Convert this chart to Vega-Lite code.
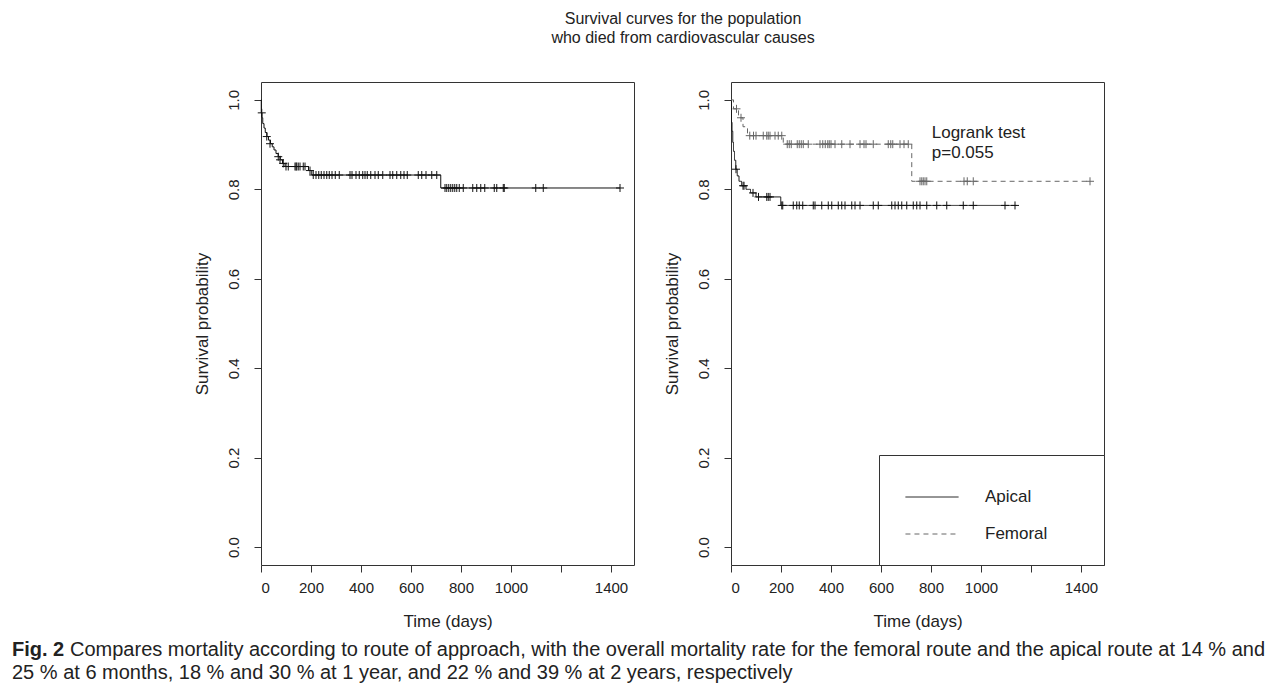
{
  "$schema": "https://vega.github.io/schema/vega-lite/v6.json",
  "background": "white",
  "padding": {"left": 12, "top": 10, "right": 0, "bottom": 0},
  "config": {
    "font": "Liberation Sans",
    "view": {"stroke": "#333", "strokeWidth": 1},
    "axis": {"grid": false, "domain": false, "tickColor": "#333", "tickSize": 7, "labelColor": "#222", "labelFontSize": 15, "labelFont": "Liberation Sans", "titleFont": "Liberation Sans", "titleFontSize": 17, "titleFontWeight": "normal", "titleColor": "#222"}
  },
  "datasets": {
    "leftSteps": [
      {"t":0,"s":1},{"t":1,"s":0.971},{"t":4,"s":0.96},{"t":7,"s":0.947},{"t":12,"s":0.937},{"t":17,"s":0.927},{"t":24,"s":0.918},{"t":30,"s":0.91},{"t":38,"s":0.902},{"t":45,"s":0.895},{"t":52,"s":0.888},{"t":60,"s":0.88},{"t":69,"s":0.873},{"t":77,"s":0.866},{"t":86,"s":0.858},{"t":96,"s":0.851},{"t":190,"s":0.842},{"t":203,"s":0.832},{"t":719,"s":0.803},{"t":1436,"s":0.803}
    ],
    "leftCensor": [
      {"t":3,"s":0.971},{"t":23,"s":0.918},{"t":36,"s":0.902},{"t":69,"s":0.873},{"t":76,"s":0.866},{"t":89,"s":0.858},{"t":100,"s":0.851},{"t":109,"s":0.851},{"t":136,"s":0.851},{"t":140,"s":0.851},{"t":143,"s":0.851},{"t":149,"s":0.851},{"t":156,"s":0.851},{"t":169,"s":0.851},{"t":176,"s":0.851},{"t":196,"s":0.842},
      {"t":209,"s":0.832},{"t":220,"s":0.832},{"t":231,"s":0.832},{"t":241,"s":0.832},{"t":252,"s":0.832},{"t":263,"s":0.832},{"t":273,"s":0.832},{"t":284,"s":0.832},{"t":297,"s":0.832},{"t":313,"s":0.832},{"t":356,"s":0.832},{"t":364,"s":0.832},{"t":380,"s":0.832},{"t":393,"s":0.832},{"t":407,"s":0.832},{"t":416,"s":0.832},{"t":425,"s":0.832},{"t":439,"s":0.832},{"t":456,"s":0.832},{"t":469,"s":0.832},{"t":487,"s":0.832},{"t":516,"s":0.832},{"t":527,"s":0.832},{"t":543,"s":0.832},{"t":559,"s":0.832},{"t":572,"s":0.832},{"t":585,"s":0.832},{"t":629,"s":0.832},{"t":643,"s":0.832},{"t":660,"s":0.832},{"t":683,"s":0.832},{"t":703,"s":0.832},
      {"t":736,"s":0.803},{"t":743,"s":0.803},{"t":751,"s":0.803},{"t":759,"s":0.803},{"t":767,"s":0.803},{"t":775,"s":0.803},{"t":783,"s":0.803},{"t":793,"s":0.803},{"t":809,"s":0.803},{"t":847,"s":0.803},{"t":863,"s":0.803},{"t":879,"s":0.803},{"t":895,"s":0.803},{"t":933,"s":0.803},{"t":943,"s":0.803},{"t":969,"s":0.803},{"t":973,"s":0.803},{"t":1099,"s":0.803},{"t":1129,"s":0.803},{"t":1436,"s":0.803}
    ],
    "rightSteps": [
      {"g":"Apical","t":0,"s":1},{"g":"Apical","t":2,"s":0.95},{"g":"Apical","t":4,"s":0.93},{"g":"Apical","t":7,"s":0.905},{"g":"Apical","t":10,"s":0.885},{"g":"Apical","t":14,"s":0.865},{"g":"Apical","t":19,"s":0.845},{"g":"Apical","t":25,"s":0.83},{"g":"Apical","t":32,"s":0.818},{"g":"Apical","t":42,"s":0.808},{"g":"Apical","t":60,"s":0.8},{"g":"Apical","t":78,"s":0.792},{"g":"Apical","t":100,"s":0.783},{"g":"Apical","t":199,"s":0.764},{"g":"Apical","t":1143,"s":0.764},
      {"g":"Femoral","t":0,"s":1},{"g":"Femoral","t":10,"s":0.98},{"g":"Femoral","t":30,"s":0.96},{"g":"Femoral","t":48,"s":0.94},{"g":"Femoral","t":66,"s":0.92},{"g":"Femoral","t":209,"s":0.901},{"g":"Femoral","t":723,"s":0.818},{"g":"Femoral","t":1436,"s":0.818}
    ],
    "rightCensor": [
      {"g":"Apical","t":20,"s":0.845},{"g":"Apical","t":48,"s":0.808},{"g":"Apical","t":52,"s":0.808},{"g":"Apical","t":88,"s":0.792},{"g":"Apical","t":110,"s":0.783},{"g":"Apical","t":143,"s":0.783},{"g":"Apical","t":149,"s":0.783},{"g":"Apical","t":156,"s":0.783},
      {"g":"Apical","t":203,"s":0.764},{"g":"Apical","t":207,"s":0.764},{"g":"Apical","t":249,"s":0.764},{"g":"Apical","t":263,"s":0.764},{"g":"Apical","t":273,"s":0.764},{"g":"Apical","t":287,"s":0.764},{"g":"Apical","t":329,"s":0.764},{"g":"Apical","t":336,"s":0.764},{"g":"Apical","t":363,"s":0.764},{"g":"Apical","t":389,"s":0.764},{"g":"Apical","t":403,"s":0.764},{"g":"Apical","t":429,"s":0.764},{"g":"Apical","t":443,"s":0.764},{"g":"Apical","t":456,"s":0.764},{"g":"Apical","t":483,"s":0.764},{"g":"Apical","t":496,"s":0.764},{"g":"Apical","t":516,"s":0.764},{"g":"Apical","t":569,"s":0.764},{"g":"Apical","t":589,"s":0.764},{"g":"Apical","t":643,"s":0.764},{"g":"Apical","t":656,"s":0.764},{"g":"Apical","t":669,"s":0.764},{"g":"Apical","t":683,"s":0.764},{"g":"Apical","t":703,"s":0.764},{"g":"Apical","t":729,"s":0.764},{"g":"Apical","t":743,"s":0.764},{"g":"Apical","t":756,"s":0.764},{"g":"Apical","t":783,"s":0.764},{"g":"Apical","t":823,"s":0.764},{"g":"Apical","t":863,"s":0.764},{"g":"Apical","t":929,"s":0.764},{"g":"Apical","t":969,"s":0.764},{"g":"Apical","t":1096,"s":0.764},{"g":"Apical","t":1136,"s":0.764},
      {"g":"Femoral","t":22,"s":0.98},{"g":"Femoral","t":40,"s":0.96},{"g":"Femoral","t":75,"s":0.92},{"g":"Femoral","t":90,"s":0.92},{"g":"Femoral","t":100,"s":0.92},{"g":"Femoral","t":129,"s":0.92},{"g":"Femoral","t":143,"s":0.92},{"g":"Femoral","t":149,"s":0.92},{"g":"Femoral","t":156,"s":0.92},{"g":"Femoral","t":176,"s":0.92},{"g":"Femoral","t":189,"s":0.92},{"g":"Femoral","t":203,"s":0.92},
      {"g":"Femoral","t":225,"s":0.901},{"g":"Femoral","t":233,"s":0.901},{"g":"Femoral","t":241,"s":0.901},{"g":"Femoral","t":265,"s":0.901},{"g":"Femoral","t":273,"s":0.901},{"g":"Femoral","t":281,"s":0.901},{"g":"Femoral","t":289,"s":0.901},{"g":"Femoral","t":309,"s":0.901},{"g":"Femoral","t":356,"s":0.901},{"g":"Femoral","t":367,"s":0.901},{"g":"Femoral","t":377,"s":0.901},{"g":"Femoral","t":387,"s":0.901},{"g":"Femoral","t":393,"s":0.901},{"g":"Femoral","t":400,"s":0.901},{"g":"Femoral","t":416,"s":0.901},{"g":"Femoral","t":443,"s":0.901},{"g":"Femoral","t":476,"s":0.901},{"g":"Femoral","t":516,"s":0.901},{"g":"Femoral","t":532,"s":0.901},{"g":"Femoral","t":540,"s":0.901},{"g":"Femoral","t":569,"s":0.901},{"g":"Femoral","t":629,"s":0.901},{"g":"Femoral","t":639,"s":0.901},{"g":"Femoral","t":647,"s":0.901},{"g":"Femoral","t":676,"s":0.901},{"g":"Femoral","t":692,"s":0.901},{"g":"Femoral","t":709,"s":0.901},
      {"g":"Femoral","t":756,"s":0.818},{"g":"Femoral","t":763,"s":0.818},{"g":"Femoral","t":769,"s":0.818},{"g":"Femoral","t":776,"s":0.818},{"g":"Femoral","t":783,"s":0.818},{"g":"Femoral","t":932,"s":0.818},{"g":"Femoral","t":945,"s":0.818},{"g":"Femoral","t":969,"s":0.818},{"g":"Femoral","t":1436,"s":0.818}
    ],
    "annot": [{"t":803,"s":0.925,"label":"Logrank test\n\u2002p=0.055"}],
    "caption": [
      {"line":1,"part":"bold","text":"Fig. 2"},
      {"line":1,"part":"rest","text":"Compares mortality according to route of approach, with the overall mortality rate for the femoral route and the apical route at 14 % and"},
      {"line":2,"part":"rest","text":"25 % at 6 months, 18 % and 30 % at 1 year, and 22 % and 39 % at 2 years, respectively"}
    ]
  },
  "title": {"text": ["Survival curves for the population", "who died from cardiovascular causes"], "fontSize": 16, "fontWeight": "normal", "font": "Liberation Sans", "color": "#222", "anchor": "middle", "frame": "group", "offset": 36, "lineHeight": 19, "dx": 422},
  "spacing": 8,
  "resolve": {"legend": {"color": "independent", "strokeDash": "independent"}},
  "vconcat": [
    {
      "resolve": {"legend": {"color": "independent", "strokeDash": "independent"}},
      "spacing": 27,
      "hconcat": [
        {
          "width": 373, "height": 483,
          "layer": [
            {"data": {"name": "leftSteps"}, "mark": {"type": "line", "interpolate": "step-after", "strokeWidth": 1, "color": "#111"},
             "encoding": {
               "x": {"field": "t", "type": "quantitative", "scale": {"domain": [0, 1492], "nice": false, "zero": false}, "axis": {"values": [0,200,400,600,800,1000,1200,1400], "format": "d", "labelExpr": "datum.value == 1200 ? '' : datum.label", "title": "Time (days)", "labelPadding": 8, "titlePadding": 18}},
               "y": {"field": "s", "type": "quantitative", "scale": {"domain": [-0.04, 1.04], "nice": false, "zero": false}, "axis": {"values": [0,0.2,0.4,0.6,0.8,1], "format": ".1f", "title": "Survival probability", "labelAngle": 270, "labelAlign": "center", "labelBaseline": "alphabetic", "labelPadding": 16, "titlePadding": 15}}
             }},
            {"data": {"name": "leftCensor"}, "mark": {"type": "point", "shape": "M-1,0H1M0,-1V1", "filled": false, "size": 64, "strokeWidth": 1, "color": "#111", "opacity": 1},
             "encoding": {"x": {"field": "t", "type": "quantitative"}, "y": {"field": "s", "type": "quantitative"}}}
          ]
        },
        {
          "width": 373, "height": 483,
          "layer": [
            {"data": {"name": "rightSteps"}, "mark": {"type": "line", "interpolate": "step-after", "strokeWidth": 1},
             "encoding": {
               "x": {"field": "t", "type": "quantitative", "scale": {"domain": [0, 1492], "nice": false, "zero": false}, "axis": {"values": [0,200,400,600,800,1000,1200,1400], "format": "d", "labelExpr": "datum.value == 1200 ? '' : datum.label", "title": "Time (days)", "labelPadding": 8, "titlePadding": 18}},
               "y": {"field": "s", "type": "quantitative", "scale": {"domain": [-0.04, 1.04], "nice": false, "zero": false}, "axis": {"values": [0,0.2,0.4,0.6,0.8,1], "format": ".1f", "title": "Survival probability", "labelAngle": 270, "labelAlign": "center", "labelBaseline": "alphabetic", "labelPadding": 16, "titlePadding": 15}},
               "color": {"field": "g", "type": "nominal", "scale": {"domain": ["Apical", "Femoral"], "range": ["#111", "#666"]},
                 "legend": {"orient": "bottom-right", "offset": 0, "padding": 23, "strokeColor": "#333", "fillColor": "white", "title": " ", "titleOrient": "right", "titlePadding": 34, "symbolType": "M-0.84,0H2.03", "symbolSize": 1369, "symbolStrokeWidth": 1, "labelFontSize": 17, "labelOffset": 45, "labelColor": "#222", "rowPadding": 10, "cornerRadius": 0}},
               "strokeDash": {"field": "g", "type": "nominal", "scale": {"domain": ["Apical", "Femoral"], "range": [[1, 0], [5, 4]]},
                 "legend": {"orient": "bottom-right", "offset": 0, "padding": 23, "strokeColor": "#333", "fillColor": "white", "title": " ", "titleOrient": "right", "titlePadding": 34, "symbolType": "M-0.84,0H2.03", "symbolSize": 1369, "symbolStrokeWidth": 1, "labelFontSize": 17, "labelOffset": 45, "labelColor": "#222", "rowPadding": 10, "cornerRadius": 0}}
             }},
            {"data": {"name": "rightCensor"}, "mark": {"type": "point", "shape": "M-1,0H1M0,-1V1", "filled": false, "size": 64, "strokeWidth": 1, "opacity": 1},
             "encoding": {"x": {"field": "t", "type": "quantitative"}, "y": {"field": "s", "type": "quantitative"},
               "color": {"field": "g", "type": "nominal", "legend": null}}},
            {"data": {"name": "annot"}, "mark": {"type": "text", "align": "left", "baseline": "middle", "fontSize": 17, "lineBreak": "\n", "lineHeight": 20, "color": "#222", "font": "Liberation Sans"},
             "encoding": {"x": {"field": "t", "type": "quantitative"}, "y": {"field": "s", "type": "quantitative"}, "text": {"field": "label"}}}
          ]
        }
      ]
    },
    {
      "width": 1256, "height": 46,
      "view": {"stroke": null},
      "data": {"name": "caption"},
      "encoding": {
        "y": {"field": "line", "type": "ordinal", "axis": null},
        "x": {"datum": 0, "type": "quantitative", "scale": {"domain": [0, 1]}, "axis": null},
        "text": {"field": "text"}
      },
      "layer": [
        {"transform": [{"filter": "datum.part == 'bold'"}], "mark": {"type": "text", "align": "left", "baseline": "middle", "font": "Liberation Sans", "fontSize": 20, "fontWeight": "bold", "color": "#222", "dx": -249}},
        {"transform": [{"filter": "datum.part == 'rest' && datum.line == 1"}], "mark": {"type": "text", "align": "left", "baseline": "middle", "font": "Liberation Sans", "fontSize": 20, "color": "#222", "dx": -191}},
        {"transform": [{"filter": "datum.part == 'rest' && datum.line == 2"}], "mark": {"type": "text", "align": "left", "baseline": "middle", "font": "Liberation Sans", "fontSize": 20, "color": "#222", "dx": -249}}
      ]
    }
  ]
}
